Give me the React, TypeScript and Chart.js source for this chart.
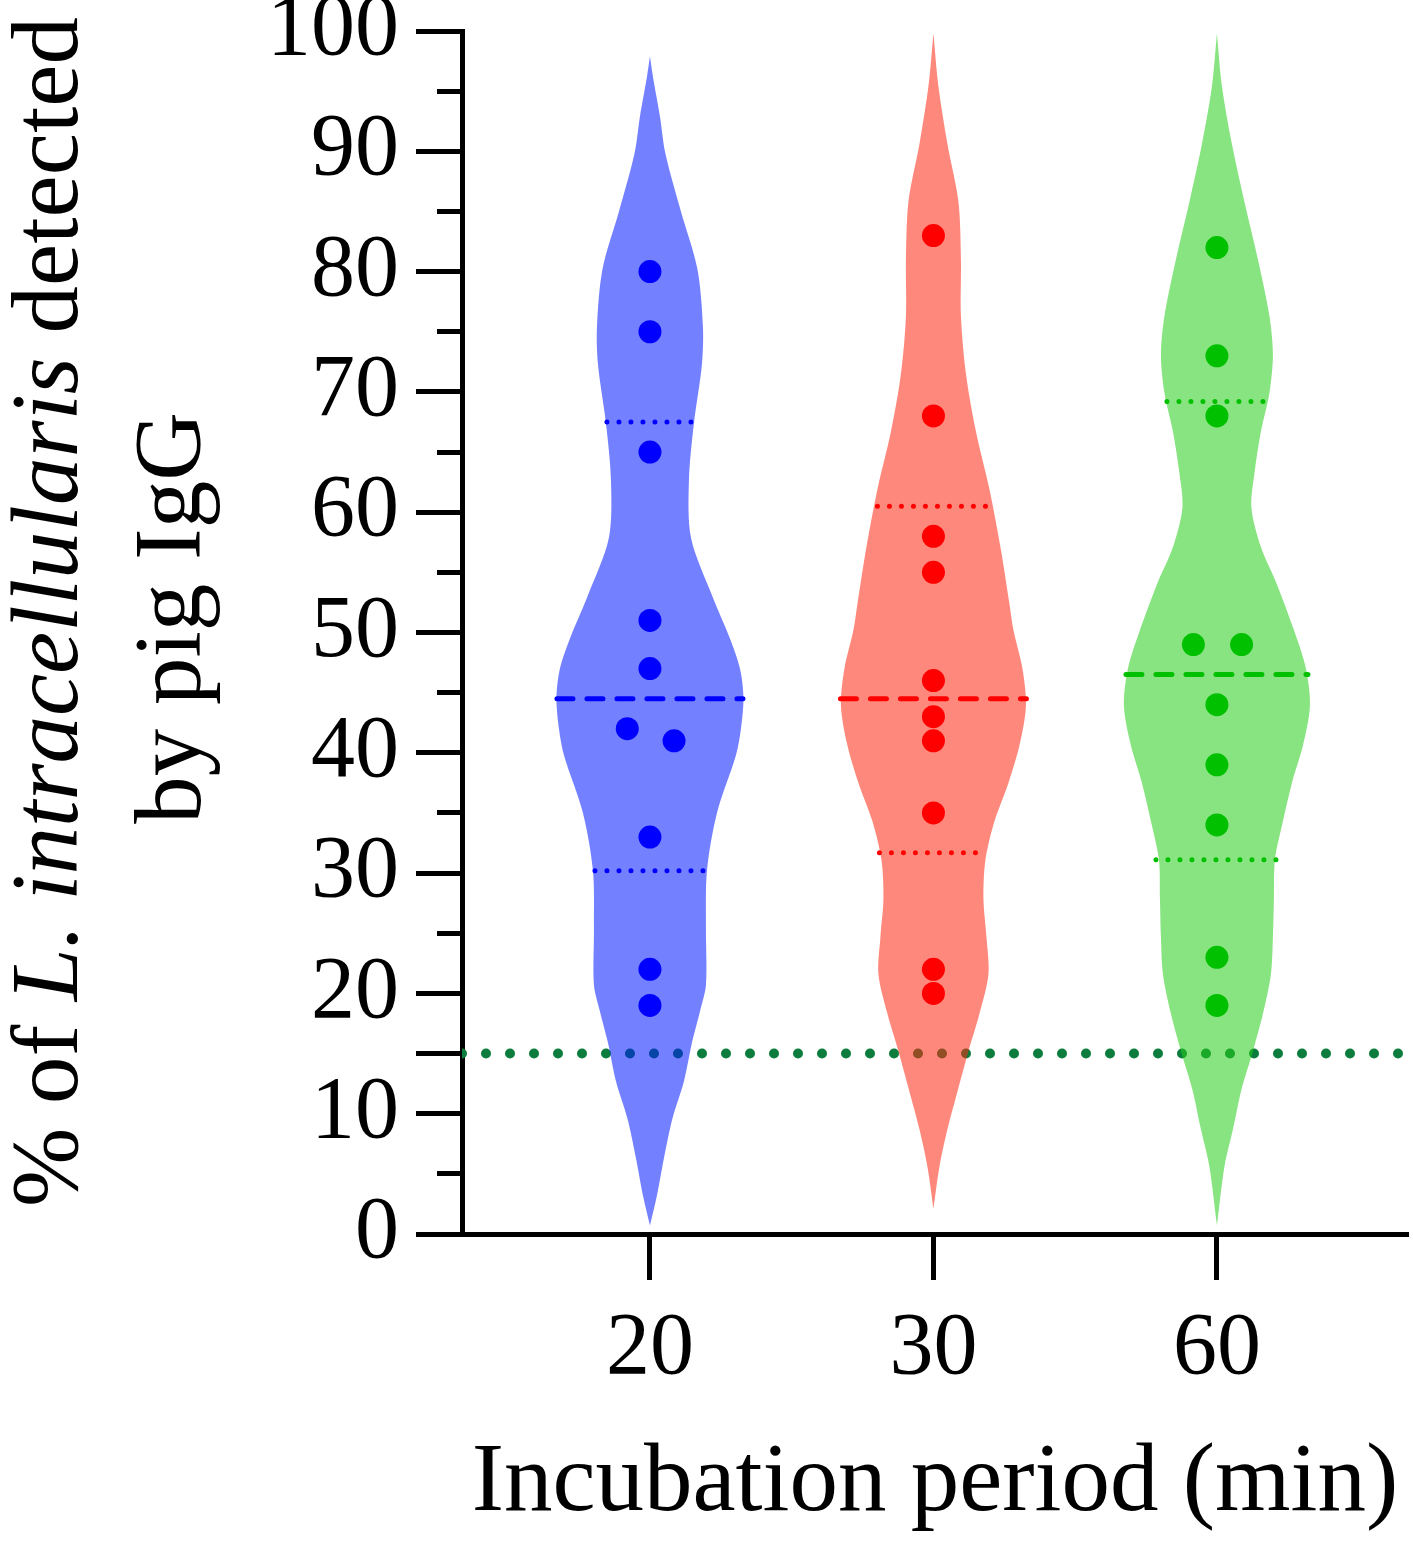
import React, { useEffect, useRef } from 'react';
import { Chart, registerables } from 'chart.js';

Chart.register(...registerables);

// ---- data ----
const categories = ['20', '30', '60'];
const pointColors = ['#0000ff', '#ff0000', '#00c000'];
const violinFills = ['rgba(0, 24, 255, 0.55)', 'rgba(255, 39, 17, 0.55)', 'rgba(39, 206, 24, 0.55)'];

const values20 = [80, 75, 65, 51, 47, 42, 41, 33, 22, 19];
const jitter20 = [0, 0, 0, 0, 0, -0.08, 0.085, 0, 0, 0];
const values30 = [83, 68, 58, 55, 46, 43, 41, 35, 22, 20];
const jitter30 = [0, 0, 0, 0, 0, 0, 0, 0, 0, 0];
const values60 = [82, 73, 68, 49, 49, 44, 39, 34, 23, 19];
const jitter60 = [0, 0, 0, -0.083, 0.087, 0, 0, 0, 0, 0];

// violin outline: y levels and half widths (density, px per 283.5 px category step)
const levels20 = [0.7, 3.2, 6.3, 9.6, 12.7, 15.9, 18.5, 20.7, 25.5, 30.2, 35.0, 39.8, 42.0, 44.6, 47.0, 49.5, 53.1, 57.9, 62.7, 67.4, 72.3, 75.4, 80.2, 85.0, 89.8, 92.9, 96.2, 97.9];
const widths20 = [0, 7, 14, 22.5, 34, 42, 50, 56, 56, 57, 67, 86, 91, 93.5, 90, 80, 62, 41, 39, 44, 52, 53, 47.5, 31, 15.5, 10, 3, 0];
const levels30 = [2.1, 5.6, 8.7, 12.0, 15.2, 18.3, 21.6, 24.7, 27.9, 31.1, 34.3, 37.5, 40.6, 43.9, 47.0, 50.2, 52.4, 57.1, 61.9, 66.7, 71.5, 76.3, 81.0, 85.8, 90.6, 95.4, 99.8];
const widths30 = [0, 6, 14, 24.5, 35, 46, 55, 53, 50, 52, 61, 75, 86, 92.5, 89, 80, 76, 67, 56, 42.5, 32.5, 27.5, 27.5, 25, 14, 5, 0];
const levels60 = [0.7, 5.6, 8.7, 12.0, 15.2, 18.3, 21.6, 24.7, 27.9, 31.1, 34.3, 37.5, 40.6, 43.9, 47.0, 50.2, 54.0, 57.1, 60.4, 63.5, 66.7, 69.9, 73.1, 76.3, 81.0, 85.8, 90.6, 95.4, 99.8];
const widths60 = [0, 7.5, 16, 24.5, 36, 46, 54, 56, 57, 58, 66, 75, 86, 93, 89, 77, 60, 44, 34.5, 38, 44, 52.5, 56, 52.5, 41, 27.5, 15, 5, 0];

const medians = [44.5, 44.5, 46.5];
const medianWidths = [93, 93, 91];
const lowerQuartiles = [30.2, 31.7, 31.1];
const lowerQuartileWidths = [55, 54, 61];
const upperQuartiles = [67.5, 60.5, 69.2];
const upperQuartileWidths = [43, 56, 50];

const threshold = 15;
const yMajorTicks = [0, 10, 15, 20, 30, 40, 50, 60, 70, 80, 90, 100];

const xTitle = 'Incubation period (min)';
const yTitleLine1 = [
  { text: '% of ', italic: false },
  { text: 'L. intracellularis', italic: true },
  { text: ' detected', italic: false },
];
const yTitleLine2 = 'by pig IgG';

// ---- layout constants ----
const W = 1413;
const H = 1543;
const X_MIN = 0.337;
const X_MAX = 3.674;
const WIDTH_SCALE = 283.5;
const FONT = "'Liberation Serif', 'Times New Roman', serif";

const groups = [
  { levels: levels20, widths: widths20, values: values20, jitter: jitter20 },
  { levels: levels30, widths: widths30, values: values30, jitter: jitter30 },
  { levels: levels60, widths: widths60, values: values60, jitter: jitter60 },
];

// rotated two-line y title, second word group in italics
const yTitlePlugin = {
  id: 'yTitle',
  afterDraw(chart: any) {
    const ctx = chart.ctx;
    const size = 95;
    const fontOf = (italic: boolean) => `${italic ? 'italic ' : ''}${size}px ${FONT}`;

    ctx.save();
    ctx.fillStyle = '#000';
    ctx.textBaseline = 'alphabetic';
    ctx.textAlign = 'left';
    ctx.translate(77, 612);
    ctx.rotate(-Math.PI / 2);
    let total = 0;
    for (const p of yTitleLine1) {
      ctx.font = fontOf(p.italic);
      total += ctx.measureText(p.text).width;
    }
    let x = -total / 2;
    for (const p of yTitleLine1) {
      ctx.font = fontOf(p.italic);
      ctx.fillText(p.text, x, 0);
      x += ctx.measureText(p.text).width;
    }
    ctx.restore();

    ctx.save();
    ctx.fillStyle = '#000';
    ctx.textBaseline = 'alphabetic';
    ctx.textAlign = 'center';
    ctx.font = fontOf(false);
    ctx.translate(200, 618);
    ctx.rotate(-Math.PI / 2);
    ctx.fillText(yTitleLine2, 0, 0);
    ctx.restore();
  },
};

export default function App() {
  const canvasRef = useRef<HTMLCanvasElement | null>(null);

  useEffect(() => {
    document.body.style.margin = '0';
    const canvas = canvasRef.current;
    if (!canvas) return;

    const datasets: any[] = [];

    // threshold line (drawn first, under the violins)
    datasets.push({
      data: [
        { x: X_MIN, y: threshold },
        { x: X_MAX, y: threshold },
      ],
      showLine: true,
      borderColor: 'rgb(12, 125, 60)',
      borderWidth: 10,
      borderDash: [0, 24],
      borderCapStyle: 'round',
      pointRadius: 0,
      fill: false,
      order: 10,
    });

    // violins: left edge, then right edge filled back to it
    groups.forEach((g, i) => {
      const c = i + 1;
      datasets.push({
        data: g.levels.map((y, k) => ({ x: c - g.widths[k] / WIDTH_SCALE, y })),
        showLine: true,
        borderWidth: 0,
        borderColor: 'transparent',
        pointRadius: 0,
        tension: 0.3,
        fill: false,
        order: 5,
      });
      datasets.push({
        data: g.levels.map((y, k) => ({ x: c + g.widths[k] / WIDTH_SCALE, y })),
        showLine: true,
        borderWidth: 0,
        borderColor: 'transparent',
        backgroundColor: violinFills[i],
        pointRadius: 0,
        tension: 0.3,
        fill: '-1',
        order: 5,
      });
    });

    // median (dashed) and quartiles (dotted)
    groups.forEach((_, i) => {
      const c = i + 1;
      const line = (y: number, w: number, dash: number[]) => ({
        data: [
          { x: c - w / WIDTH_SCALE, y },
          { x: c + w / WIDTH_SCALE, y },
        ],
        showLine: true,
        borderColor: pointColors[i],
        borderWidth: 5,
        borderDash: dash,
        borderCapStyle: 'round',
        pointRadius: 0,
        fill: false,
        order: 2,
      });
      datasets.push(line(medians[i], medianWidths[i], [16, 14]));
      datasets.push(line(lowerQuartiles[i], lowerQuartileWidths[i], [0, 12]));
      datasets.push(line(upperQuartiles[i], upperQuartileWidths[i], [0, 12]));
    });

    groups.forEach((g, i) => {
      datasets.push({
        data: g.values.map((v, k) => ({ x: i + 1 + g.jitter[k], y: v })),
        showLine: false,
        backgroundColor: pointColors[i],
        borderWidth: 0,
        pointRadius: 11.5,
        pointHoverRadius: 11.5,
        order: 1,
      });
    });

    const chart = new Chart(canvas, {
      type: 'scatter',
      data: { datasets },
      plugins: [yTitlePlugin],
      options: {
        animation: false,
        responsive: false,
        maintainAspectRatio: false,
        indexAxis: 'y',
        events: [],
        layout: { autoPadding: false, padding: { top: 31, right: 5, left: 0, bottom: 0 } },
        plugins: {
          legend: { display: false },
          tooltip: { enabled: false },
        },
        scales: {
          x: {
            type: 'linear',
            min: X_MIN,
            max: X_MAX,
            afterBuildTicks: (scale: any) => {
              scale.ticks = categories.map((_, i) => ({ value: i + 1 }));
            },
            afterFit: (scale: any) => {
              scale.height = 309;
            },
            ticks: {
              autoSkip: false,
              maxRotation: 0,
              padding: 17,
              color: '#000',
              font: { family: FONT, size: 88 },
              callback: (v: any) => categories[Math.round(Number(v)) - 1] ?? '',
            },
            grid: {
              drawOnChartArea: false,
              tickLength: 46,
              tickWidth: 5,
              tickColor: '#000',
            },
            border: { display: true, color: '#000', width: 5 },
            title: {
              display: true,
              text: xTitle,
              color: '#000',
              font: { family: FONT, size: 97 },
              padding: { top: 0, bottom: 0 },
            },
          },
          y: {
            type: 'linear',
            position: 'left',
            weight: 1,
            min: 0,
            max: 100,
            afterBuildTicks: (scale: any) => {
              scale.ticks = yMajorTicks.map((v) => ({ value: v }));
            },
            afterFit: (scale: any) => {
              scale.width = 462;
            },
            ticks: {
              autoSkip: false,
              padding: 17,
              color: '#000',
              font: { family: FONT, size: 88, lineHeight: 0.3 },
              callback: (v: any) => (Number(v) === threshold ? '' : String(v)),
            },
            grid: {
              drawOnChartArea: false,
              tickLength: 46,
              tickWidth: 5,
              tickColor: '#000',
            },
            border: { display: true, color: '#000', width: 5 },
          },
          yMinor: {
            type: 'linear',
            position: 'left',
            weight: 0,
            min: 0,
            max: 100,
            ticks: { display: false, stepSize: 5 },
            afterFit: (scale: any) => {
              scale.width = 0;
            },
            grid: {
              drawOnChartArea: false,
              tickLength: 25,
              tickWidth: 5,
              tickColor: '#000',
            },
            border: { display: false },
          },
        },
      } as any,
    });

    return () => {
      chart.destroy();
    };
  }, []);

  return (
    <div style={{ width: W, height: H }}>
      <canvas ref={canvasRef} width={W} height={H} style={{ display: 'block', width: W, height: H }} />
    </div>
  );
}
